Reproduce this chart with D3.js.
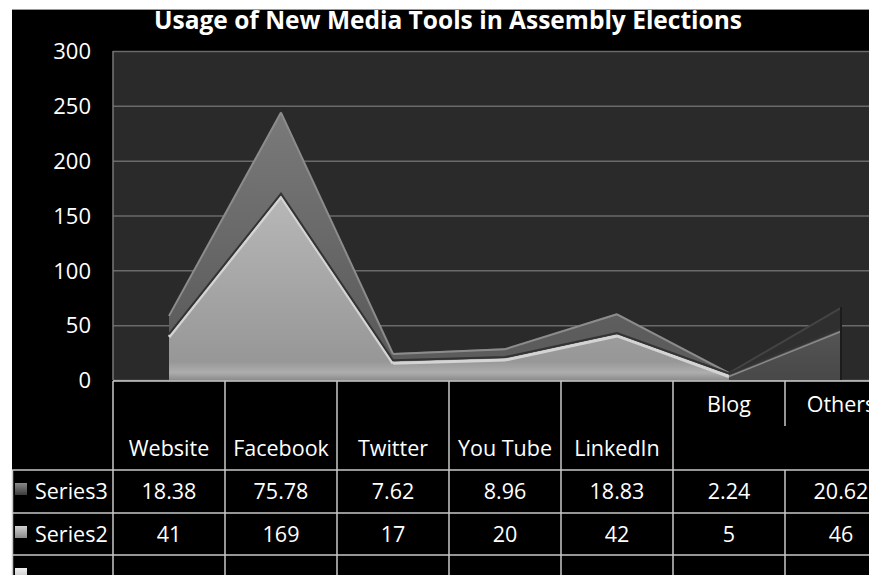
<!DOCTYPE html>
<html>
<head>
<meta charset="utf-8">
<script src="https://cdn.jsdelivr.net/npm/d3@7"></script>
<style>
  body { margin: 0; background: #fff; }
  text { font-family: "Open Sans", "DejaVu Sans", sans-serif; fill: #fff; }
</style>
</head>
<body>
<svg id="chart" width="869" height="575"></svg>
<script>
// chart values
const categories = ["Website", "Facebook", "Twitter", "You Tube", "LinkedIn", "Blog", "Others"];
const series2 = [41, 169, 17, 20, 42, 5, 46];
const series3 = [18.38, 75.78, 7.62, 8.96, 18.83, 2.24, 20.62];
const yTicks = [0, 50, 100, 150, 200, 250, 300];
const rowNames = ["Series3", "Series2", ""];
const rowValues = [series3, series2, []];

const svg = d3.select("#chart");
const W = 869, H = 575;
const plotLeft = 113, plotTop = 51, plotBottom = 380;

// outer black panel with thin white margin
svg.append("rect").attr("x", 12).attr("y", 10).attr("width", W - 12).attr("height", H - 10).attr("fill", "#000");
svg.append("line").attr("x1", 12).attr("x2", W).attr("y1", 9.5).attr("y2", 9.5).attr("stroke", "#999");

const x = d3.scaleBand().domain(categories).range([plotLeft, plotLeft + 112 * categories.length]);
const cx = c => x(c) + x.bandwidth() / 2;
const y = d3.scaleLinear().domain([0, 300]).range([plotBottom, plotTop]);

// title
svg.append("text")
  .attr("x", 448).attr("y", 29)
  .attr("text-anchor", "middle")
  .style("font-weight", "bold").style("font-size", "24.5px")
  .text("Usage of New Media Tools in Assembly Elections");

// plot background
svg.append("rect").attr("x", plotLeft).attr("y", plotTop).attr("width", W - plotLeft).attr("height", plotBottom - plotTop).attr("fill", "#2a2a2a");

// gridlines
const grid = svg.append("g").attr("transform", `translate(${plotLeft},0)`)
  .call(d3.axisLeft(y).tickValues(yTicks).tickSize(-(W - plotLeft)).tickFormat(""));
grid.select(".domain").remove();
grid.selectAll("line").attr("stroke", "#6a6a6a").attr("stroke-width", 1.5);
svg.append("line").attr("x1", plotLeft).attr("x2", plotLeft).attr("y1", plotTop).attr("y2", plotBottom).attr("stroke", "#777").attr("stroke-width", 1.5);

// y labels
const yAxis = svg.append("g").attr("transform", "translate(91,0)")
  .call(d3.axisLeft(y).tickValues(yTicks).tickSize(0).tickPadding(0));
yAxis.select(".domain").remove();
yAxis.selectAll("text").attr("fill", "#fff").style("font-size", "22px").attr("dy", "0.35em");

// gradients
const defs = svg.append("defs");
function vgrad(id, y1, y2, stops, units) {
  const g = defs.append("linearGradient").attr("id", id)
    .attr("gradientUnits", units || "userSpaceOnUse")
    .attr("x1", 0).attr("x2", 0).attr("y1", y1).attr("y2", y2);
  stops.forEach(s => g.append("stop").attr("offset", s[0]).attr("stop-color", s[1]));
}
vgrad("s2light", y(170), y(0), [[0, "#b8b8b8"], [0.9, "#979797"], [0.96, "#adadad"], [1, "#8c8c8c"]]);
vgrad("s2dark", y(46), y(0), [[0, "#555"], [1, "#484848"]]);
vgrad("s3", y(245), y(40), [[0, "#7a7a7a"], [1, "#5c5c5c"]]);

// stacked areas, drawn segment by segment for facet shading
const rows = categories.map((c, i) => ({ cat: c, Series2: series2[i], Series3: series3[i] }));
const layers = d3.stack().keys(["Series2", "Series3"])(rows);
const area = d3.area().x(d => cx(d.data.cat)).y0(d => y(d[0])).y1(d => y(d[1]));
const topLine = (dy) => d3.line().x(d => cx(d.data.cat)).y(d => y(d[1]) + dy);

const last = categories.length - 2;
const segs = d3.range(categories.length - 1);
const fills = [
  i => i === last ? "url(#s2dark)" : "url(#s2light)",
  i => i === last ? "#2f2f2f" : "url(#s3)"
];

layers.forEach((layer, li) => {
  const g = svg.append("g");
  segs.forEach(i => {
    const seg = [layer[i], layer[i + 1]];
    g.append("path").attr("d", area(seg)).attr("fill", fills[li](i));
  });
  segs.forEach(i => {
    const seg = [layer[i], layer[i + 1]];
    if (li === 0) {
      g.append("path").attr("d", topLine(2)(seg)).attr("fill", "none")
        .attr("stroke", i === last ? "#8a8a8a" : "#d4d4d4").attr("stroke-width", i === last ? 1.5 : 3);
    } else {
      g.append("path").attr("d", topLine(1)(seg)).attr("fill", "none")
        .attr("stroke", i === last ? "#444" : "#8c8c8c").attr("stroke-width", 2);
    }
  });
});
// seam between the two series
svg.append("path").attr("d", topLine(-1)(layers[0])).attr("fill", "none")
  .attr("stroke", "#333").attr("stroke-width", 2);
// dark right edge
const endX = cx(categories[categories.length - 1]);
svg.append("line").attr("x1", endX).attr("x2", endX)
  .attr("y1", y(layers[1][categories.length - 1][1])).attr("y2", plotBottom)
  .attr("stroke", "#1c1c1c").attr("stroke-width", 2);

// data table
const tbl = svg.append("g");
const lineCol = "#c8c8c8";
const hdrBottom = 470, rowH = 42;
const rowTops = rowNames.map((d, i) => hdrBottom + i * rowH + (i > 0 ? 1 : 0));
const hl = (x1, x2, yy) => tbl.append("line").attr("x1", x1).attr("x2", x2).attr("y1", yy).attr("y2", yy)
  .attr("stroke", lineCol).attr("stroke-width", 1.5);
const vl = (xx, y1, y2) => tbl.append("line").attr("x1", xx).attr("x2", xx).attr("y1", y1).attr("y2", y2)
  .attr("stroke", lineCol).attr("stroke-width", 1.5);

hl(plotLeft, W, plotBottom + 1);
rowTops.forEach(t => hl(12, W, t));
vl(12.5, hdrBottom, H);
categories.forEach((c, i) => {
  if (i === categories.length - 1) {
    vl(x(c), plotBottom + 1, 426);
    vl(x(c), hdrBottom, H);
  } else {
    vl(x(c), plotBottom + 1, H);
  }
});

// header labels (the last two wrap to the top line)
categories.forEach((c, i) => {
  tbl.append("text").attr("x", cx(c)).attr("y", i >= 5 ? 412 : 456)
    .attr("text-anchor", "middle").style("font-size", "21.5px").text(c);
});

// legend keys
vgrad("k3", 0, 1, [[0, "#8a8a8a"], [1, "#3c3c3c"]], "objectBoundingBox");
vgrad("k2", 0, 1, [[0, "#d0d0d0"], [1, "#8a8a8a"]], "objectBoundingBox");
vgrad("k1", 0, 1, [[0, "#f0f0f0"], [1, "#bdbdbd"]], "objectBoundingBox");
const keys = ["url(#k3)", "url(#k2)", "url(#k1)"];

rowNames.forEach((name, r) => {
  const t = rowTops[r];
  tbl.append("rect").attr("x", 15).attr("y", t + 13).attr("width", 12).attr("height", 12).attr("fill", keys[r]);
  tbl.append("text").attr("x", 35).attr("y", t + 29).style("font-size", "21.5px").text(name);
  rowValues[r].forEach((v, i) => {
    tbl.append("text").attr("x", cx(categories[i])).attr("y", t + 29)
      .attr("text-anchor", "middle").style("font-size", "21.5px").text(String(v));
  });
});
</script>
</body>
</html>
